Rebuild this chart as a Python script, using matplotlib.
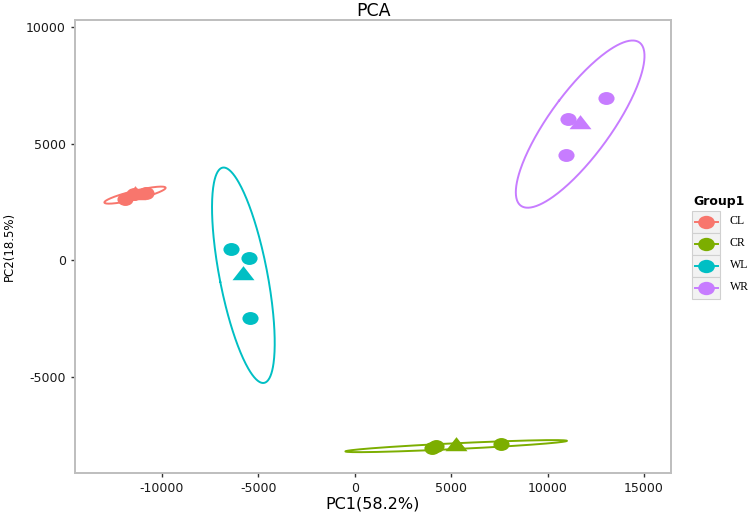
import numpy as np
import matplotlib.pyplot as plt
from matplotlib.path import Path
from matplotlib.patches import Rectangle
from matplotlib.lines import Line2D

plt.rcParams['axes.unicode_minus'] = False

groups = ['CL', 'CR', 'WL', 'WR']
colors = ['#F8766D', '#7CAE00', '#00BFC4', '#C77CFF']

# sample scores (PC1, PC2)
cl_x = [-11900, -11450, -10800]
cl_y = [2650, 2860, 2880]
cr_x = [4000, 4220, 7570]
cr_y = [-8050, -7955, -7870]
wl_x = [-6420, -5460, -5420]
wl_y = [480, 90, -2480]
wr_x = [13030, 11080, 10960]
wr_y = [6970, 6050, 4500]

xticks = [-10000, -5000, 0, 5000, 10000, 15000]
yticks = [-5000, 0, 5000, 10000]

group_x = [cl_x, cr_x, wl_x, wr_x]
group_y = [cl_y, cr_y, wl_y, wr_y]

# markers a bit wider than tall, like the stretched original
circ = Path.unit_circle()
circ_marker = Path(circ.vertices * [1, 0.8], circ.codes)
tri_marker = Path([(0, 0.85), (1, -0.43), (-1, -0.43), (0, 0.85)], closed=True)

fig = plt.figure(figsize=(7.5, 5.12), dpi=100)
ax = fig.add_axes([0.1, 0.0762, 0.7947, 0.8847])

k = 2.87  # ellipse scale on the sample covariance
t = np.linspace(0, 2 * np.pi, 300)
unit = np.column_stack([np.cos(t), np.sin(t)])
for xs, ys, c in zip(group_x, group_y, colors):
    pts = np.column_stack([xs, ys]).astype(float)
    mu = pts.mean(axis=0)
    vals, vecs = np.linalg.eigh(np.cov(pts.T))
    ell = mu + k * (unit * np.sqrt(vals)) @ vecs.T
    ax.plot(ell[:, 0], ell[:, 1], color=c, lw=1.4)
    ax.scatter(xs, ys, s=135, marker=circ_marker, color=c, linewidths=0, zorder=3)
    ax.scatter([mu[0]], [mu[1]], s=250, marker=tri_marker, color=c, linewidths=0, zorder=3)

ax.set_xlim(-14494, 16400)
ax.set_ylim(-9109, 10300)
ax.set_xticks(xticks)
ax.set_yticks(yticks)
ax.tick_params(direction='out', length=3, width=1, color='#333333',
               labelsize=9, labelcolor='#1a1a1a', pad=3.5)
for s in ax.spines.values():
    s.set_color('#BEBEBE')
    s.set_linewidth(1.4)

ax.set_title('PCA', fontsize=12.5, pad=3)
ax.set_xlabel('PC1(58.2%)', fontsize=11.5)
ax.set_ylabel('PC2(18.5%)', fontsize=8.5)
ax.yaxis.set_label_coords(-0.1, 0.5)
ax.xaxis.set_label_coords(0.5, -0.052)

# legend drawn by hand in figure pixels
W, H = 750, 512
fig.text(693 / W, 1 - 202 / H, 'Group1', fontsize=9, fontweight='bold', va='center', ha='left')
for i, (g, c) in enumerate(zip(groups, colors)):
    top = 210.5 + 22 * i
    fig.add_artist(Rectangle((692 / W, 1 - (top + 22) / H), 28 / W, 22 / H,
                             transform=fig.transFigure, fc='#F2F2F2', ec='#D0D0D0', lw=0.8))
    yc = 1 - (top + 11) / H
    fig.add_artist(Line2D([695 / W, 718 / W], [yc, yc], transform=fig.transFigure,
                          color=c, lw=1.4))
    fig.add_artist(Line2D([706 / W], [yc], transform=fig.transFigure, marker=circ_marker,
                          markersize=12, color=c, lw=0, markeredgewidth=0))
    fig.text(730 / W, yc, g, fontsize=8.5, family='Liberation Serif', va='center', ha='left')

fig.savefig('out.png', dpi=100)
